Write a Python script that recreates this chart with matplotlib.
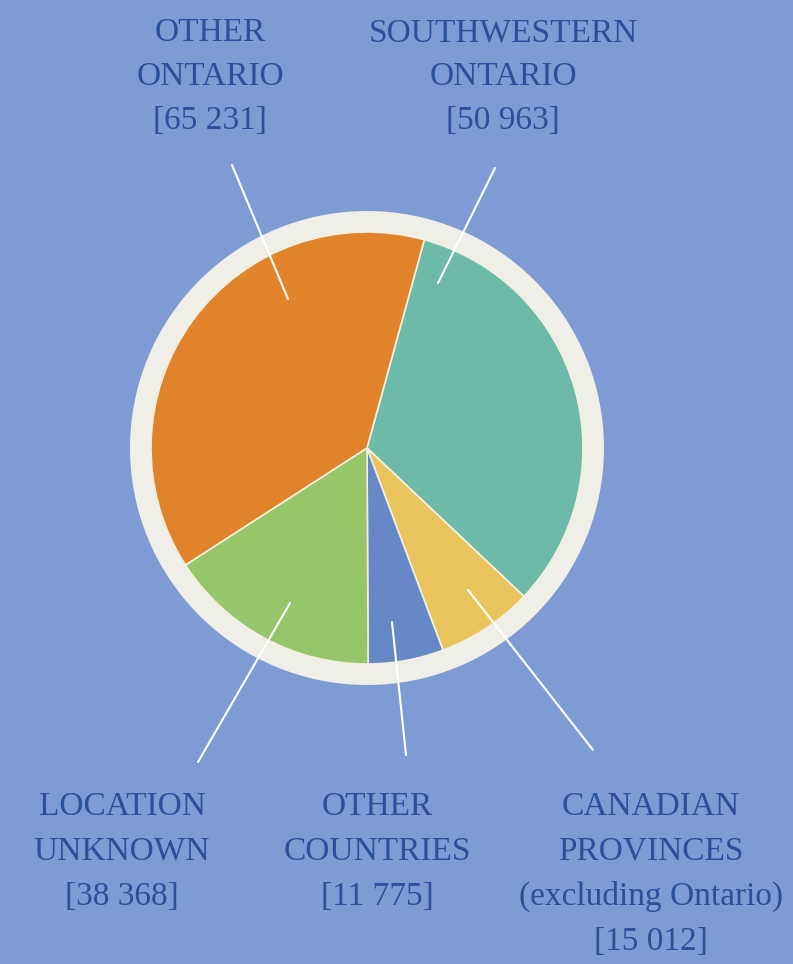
import matplotlib
matplotlib.use("Agg")
import matplotlib.pyplot as plt
from matplotlib.patches import Circle

# slices in clockwise order, starting just right of 12 o'clock
categories = ["SOUTHWESTERN ONTARIO", "CANADIAN PROVINCES", "OTHER COUNTRIES",
              "LOCATION UNKNOWN", "OTHER ONTARIO"]
counts = [50963, 15012, 11775, 38368, 65231]
# wedge sizes as drawn in the source (degrees)
slice_deg = [118.0, 26.0, 20.3, 57.5, 138.2]
colors = ["#6dbaa9", "#e9c45c", "#6688c6", "#96c56a", "#e0832b"]

label_lines = {
    "OTHER ONTARIO": ["OTHER", "ONTARIO"],
    "SOUTHWESTERN ONTARIO": ["SOUTHWESTERN", "ONTARIO"],
    "LOCATION UNKNOWN": ["LOCATION", "UNKNOWN"],
    "OTHER COUNTRIES": ["OTHER", "COUNTRIES"],
    "CANADIAN PROVINCES": ["CANADIAN", "PROVINCES", "(excluding Ontario)"],
}

W, H = 793, 964
BG = "#7f9bd3"
RING = "#efeee7"
TXT = "#2b4f98"
FONT = "Liberation Serif"

fig = plt.figure(figsize=(W / 100, H / 100), dpi=100, facecolor=BG)
ax = fig.add_axes([0, 0, 1, 1])
ax.set_facecolor(BG)

cx, cy = 367, H - 448
ax.add_patch(Circle((cx, cy), 237, facecolor=RING, edgecolor="none", zorder=1))
wedges, _ = ax.pie(slice_deg, colors=colors, startangle=74.6, counterclock=False,
                   radius=216, center=(cx, cy),
                   wedgeprops=dict(edgecolor="#f3f0e2", linewidth=1.2))
for w in wedges:
    w.set_zorder(2)

# leader lines (outer end, inner end) in pixel coordinates, y from top
leaders = {
    "OTHER ONTARIO": ((232, 165), (288, 299)),
    "SOUTHWESTERN ONTARIO": ((495, 168), (438, 283)),
    "LOCATION UNKNOWN": ((198, 762), (290, 603)),
    "OTHER COUNTRIES": ((406, 755), (392, 622)),
    "CANADIAN PROVINCES": ((593, 750), (468, 590)),
}
for (x0, y0), (x1, y1) in leaders.values():
    ax.plot([x0, x1], [H - y0, H - y1], color="white", lw=1.5,
            solid_capstyle="round", zorder=3)

# label anchor: centre x, first baseline (px from top), line step
label_pos = {
    "OTHER ONTARIO": (210, 41, 44),
    "SOUTHWESTERN ONTARIO": (503, 41, 44),
    "LOCATION UNKNOWN": (122, 815, 45),
    "OTHER COUNTRIES": (377, 815, 45),
    "CANADIAN PROVINCES": (651, 815, 45),
}
for cat, n in zip(categories, counts):
    x, y, step = label_pos[cat]
    lines = label_lines[cat] + [f"[{n:,}]".replace(",", " ")]
    for i, s in enumerate(lines):
        ax.text(x, H - (y + i * step), s, ha="center", va="baseline",
                fontsize=24, family=FONT, color=TXT, zorder=4)

ax.set_xlim(0, W)
ax.set_ylim(0, H)
ax.set_aspect("equal")
ax.axis("off")
fig.savefig("out.png", dpi=100, facecolor=BG)
